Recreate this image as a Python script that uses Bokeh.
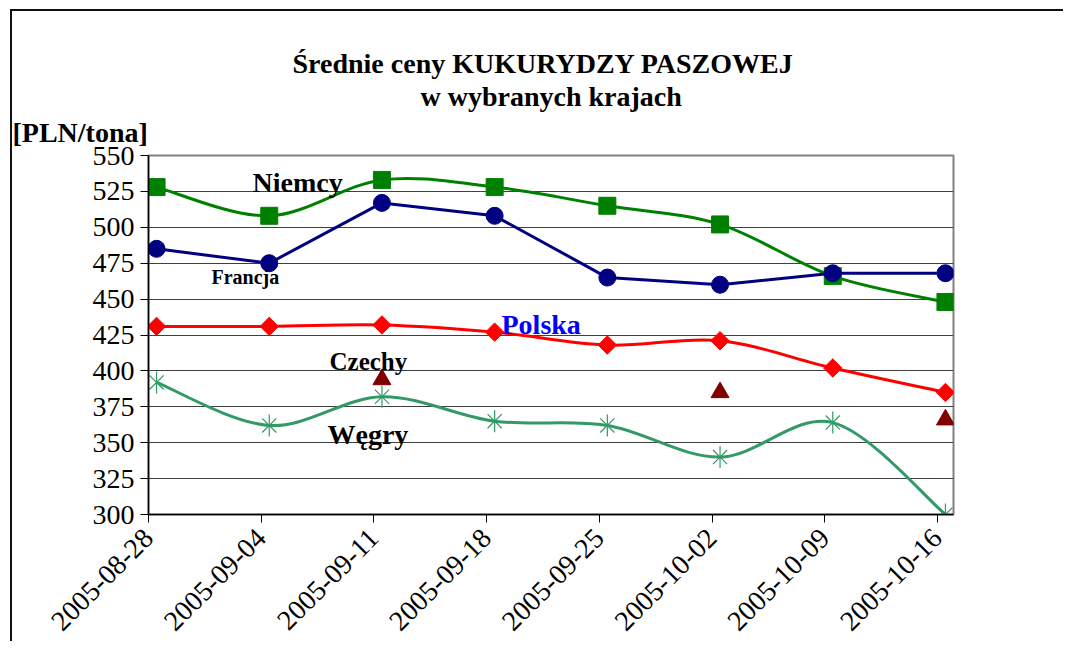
import numpy as np
import pandas as pd
from bokeh.plotting import figure
from bokeh.models import Range1d, FixedTicker, Label, Title
from bokeh.embed import file_html
from bokeh.resources import INLINE

# ---------------- data ----------------
dates = ["2005-08-28", "2005-09-04", "2005-09-11", "2005-09-18",
         "2005-09-25", "2005-10-02", "2005-10-09", "2005-10-16"]
niemcy = [528, 508, 533, 528, 515, 502, 466, 448]
francja = [485, 475, 517, 508, 465, 460, 468, 468]
polska = [431, 431, 432, 427, 418, 421, 402, 385]
wegry = [392, 362, 382, 365, 362, 340, 364, 300]
czechy = [np.nan, np.nan, 394, np.nan, np.nan, 385, np.nan, 366]
y_ticks = [300, 325, 350, 375, 400, 425, 450, 475, 500, 525, 550]

title_line1 = "Średnie ceny KUKURYDZY PASZOWEJ"
title_line2 = "w wybranych krajach"
unit_label = "[PLN/tona]"

d = pd.to_datetime(dates)
days = np.asarray((d - d[0]).days, dtype=float)
xpts = days + 0.5          # Excel date axis: point centred in its day slot

# ---------------- layout helpers (pixel -> data, for annotation placement) ----
FL, FT, FW, FH = 148, 155, 805, 359
X0, X1, Y0, Y1 = 0.0, 50.0, 300.0, 550.0


def px2x(px):
    return X0 + (px - FL) / FW * (X1 - X0)


def py2y(py):
    return Y1 - (py - FT) / FH * (Y1 - Y0)


def smooth(xs, ys):
    x = np.asarray(xs, float)
    y = np.asarray(ys, float)
    xp = np.concatenate([[x[0]], x, [x[-1]]])
    yp = np.concatenate([[y[0]], y, [y[-1]]])
    n = len(x)
    cx0 = x[:-1] + (xp[2:n + 1] - xp[0:n - 1]) / 6
    cy0 = y[:-1] + (yp[2:n + 1] - yp[0:n - 1]) / 6
    cx1 = x[1:] - (xp[3:n + 2] - xp[1:n]) / 6
    cy1 = y[1:] - (yp[3:n + 2] - yp[1:n]) / 6
    return dict(x0=x[:-1], y0=y[:-1], x1=x[1:], y1=y[1:],
                cx0=cx0, cy0=cy0, cx1=cx1, cy1=cy1)


p = figure(frame_width=FW, frame_height=FH,
           x_range=Range1d(X0, X1), y_range=Range1d(Y0, Y1),
           output_backend="svg", toolbar_location=None,
           min_border_left=FL, min_border_right=110,
           min_border_top=FT, min_border_bottom=5,
           background_fill_color="white", border_fill_alpha=0,
           outline_line_color="#808080", outline_line_width=2)

# outer chart-area border (only top and left edges are in view)
p.styles = {
    "background-color": "white",
    "background-image": "linear-gradient(#111,#111), linear-gradient(#111,#111)",
    "background-size": "2px 100%, 100% 2px",
    "background-position": "10px 9px, 10px 9px",
    "background-repeat": "no-repeat",
}

FONT = "Liberation Serif"

# titles (first added = nearest the plot)
p.add_layout(Title(text=unit_label, align="left", offset=12 - FL, text_font=FONT,
                   text_font_size="28px", text_font_style="bold", text_color="black",
                   standoff=11, vertical_align="top"), "above")
p.add_layout(Title(text=title_line2, align="left", offset=420 - FL, text_font=FONT,
                   text_font_size="28px", text_font_style="bold", text_color="black",
                   standoff=0, vertical_align="bottom"), "above")
p.add_layout(Title(text=title_line1, align="left", offset=292 - FL, text_font=FONT,
                   text_font_size="28px", text_font_style="bold", text_color="black",
                   standoff=0, vertical_align="bottom"), "above")

# axes
p.yaxis.ticker = FixedTicker(ticks=y_ticks)
p.xaxis.ticker = FixedTicker(ticks=list(days))
p.xaxis.major_label_overrides = {float(k): v for k, v in zip(days, dates)}
for ax in (p.xaxis, p.yaxis):
    ax.major_tick_out = 8
    ax.major_tick_in = 0
    ax.minor_tick_line_color = None
    ax.axis_line_color = "black"
    ax.axis_line_width = 1.5
    ax.major_tick_line_color = "black"
    ax.major_label_text_font = FONT
    ax.major_label_text_font_size = "28px"
    ax.major_label_text_color = "black"
p.yaxis.major_label_standoff = 6
p.xaxis.major_label_orientation = np.pi / 4
p.xaxis.major_label_standoff = 11

p.xgrid.visible = False
p.ygrid.ticker = FixedTicker(ticks=y_ticks)
p.ygrid.grid_line_color = "#404040"
p.ygrid.grid_line_width = 1

# series
s = smooth(xpts, niemcy)
p.bezier(source=s, x0="x0", y0="y0", x1="x1", y1="y1", cx0="cx0", cy0="cy0",
         cx1="cx1", cy1="cy1", line_color="#008000", line_width=3)
p.scatter(xpts, niemcy, marker="square", size=17, fill_color="#008000", line_color="#008000")

p.line(xpts, francja, line_color="#000080", line_width=3)
p.scatter(xpts, francja, marker="circle", size=17, fill_color="#000080", line_color="#000080")

s = smooth(xpts, polska)
p.bezier(source=s, x0="x0", y0="y0", x1="x1", y1="y1", cx0="cx0", cy0="cy0",
         cx1="cx1", cy1="cy1", line_color="#FF0000", line_width=3)
p.scatter(xpts, polska, marker="square", angle=np.pi / 4, size=13,
          fill_color="#FF0000", line_color="#FF0000")

s = smooth(xpts, wegry)
p.bezier(source=s, x0="x0", y0="y0", x1="x1", y1="y1", cx0="cx0", cy0="cy0",
         cx1="cx1", cy1="cy1", line_color="#339966", line_width=3)
p.scatter(xpts, wegry, marker="x", size=20, line_color="#339966", line_width=1.2)
p.scatter(xpts, wegry, marker="dash", angle=np.pi / 2, size=22, line_color="#339966", line_width=1.2)

p.scatter(xpts, czechy, marker="triangle", size=18, fill_color="#800000", line_color="#800000")


# series labels inside the plot
def lab(px, py, text, size, color="black"):
    p.add_layout(Label(x=px2x(px), y=py2y(py), text=text, text_font=FONT,
                       text_font_size=size, text_font_style="bold", text_color=color,
                       text_align="left", text_baseline="alphabetic"))


lab(252, 182, "Niemcy", "28px")
lab(211, 276, "Francja", "20px")
lab(501, 324, "Polska", "28px", color="#0000FF")
lab(329, 361, "Czechy", "25px")
lab(327, 434, "Węgry", "28px")

open("out.html", "w").write(file_html(p, INLINE))
